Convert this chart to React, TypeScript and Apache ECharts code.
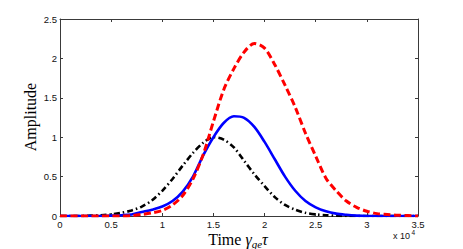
import React, { useEffect, useRef } from "react";
import * as echarts from "echarts";

// x positions in units of 1e4 (Time γ_ge τ)
const xs = [0, 0.1, 0.2, 0.3, 0.4, 0.5, 0.6, 0.7, 0.8, 0.9, 1.0, 1.1, 1.2, 1.3, 1.4, 1.5, 1.6, 1.7, 1.8, 1.9, 2.0, 2.1, 2.2, 2.3, 2.4, 2.5, 2.6, 2.7, 2.8, 2.9, 3.0, 3.1, 3.2, 3.3, 3.4, 3.5];

const blackDashDot = [0, 0, 0, 0.005, 0.01, 0.02, 0.04, 0.07, 0.12, 0.2, 0.32, 0.47, 0.64, 0.8, 0.93, 1.0, 0.97, 0.87, 0.7, 0.53, 0.38, 0.24, 0.14, 0.08, 0.04, 0.02, 0.01, 0.005, 0, 0, 0, 0, 0, 0, 0, 0];
const blueSolid = [0, 0, 0, 0, 0, 0.005, 0.01, 0.02, 0.05, 0.08, 0.12, 0.19, 0.31, 0.5, 0.77, 1.0, 1.18, 1.265, 1.245, 1.13, 0.94, 0.72, 0.5, 0.32, 0.19, 0.11, 0.06, 0.03, 0.015, 0.005, 0, 0, 0, 0, 0, 0];
const redDashed = [0, 0, 0, 0, 0, 0, 0, 0.005, 0.02, 0.04, 0.07, 0.14, 0.26, 0.47, 0.78, 1.2, 1.6, 1.87, 2.08, 2.19, 2.13, 1.92, 1.66, 1.38, 1.05, 0.76, 0.48, 0.32, 0.19, 0.11, 0.06, 0.03, 0.02, 0.01, 0.005, 0];

const xTickLabels = ["0", "0.5", "1", "1.5", "2", "2.5", "3", "3.5"];

const SCALE = 10000;
const pairs = (ys: number[]) => xs.map((x, i) => [x * SCALE, ys[i]]);

export default function App() {
  const ref = useRef<HTMLDivElement>(null);
  useEffect(() => {
    if (!ref.current) return;
    const chart = echarts.init(ref.current, null, { renderer: "svg" });
    const axisColor = "#3a3a3a";
    const labelFont = "'Liberation Sans', Arial, Helvetica, sans-serif";
    const serif = "'Liberation Serif', 'Times New Roman', 'DejaVu Serif', serif";
    chart.setOption({
      animation: false,
      backgroundColor: "#ffffff",
      grid: { left: 60, right: 45, top: 19, bottom: 33, containLabel: false },
      xAxis: [
        {
          type: "value",
          min: 0,
          max: 35000,
          interval: 5000,
          position: "bottom",
          axisLine: { show: true, onZero: false, lineStyle: { color: axisColor, width: 1 } },
          axisTick: { show: true, inside: true, length: 3, lineStyle: { color: axisColor } },
          axisLabel: {
            color: "#111",
            fontSize: 9.5,
            fontFamily: labelFont,
            margin: 3,
            formatter: (v: number) => xTickLabels[Math.round(v / 5000)] ?? "",
          },
          splitLine: { show: false },
        },
        {
          type: "value",
          min: 0,
          max: 35000,
          interval: 5000,
          position: "top",
          axisLine: { show: true, onZero: false, lineStyle: { color: axisColor, width: 1 } },
          axisTick: { show: true, inside: true, length: 3, lineStyle: { color: axisColor } },
          axisLabel: { show: false },
          splitLine: { show: false },
        },
      ],
      yAxis: [
        {
          type: "value",
          min: 0,
          max: 2.5,
          interval: 0.5,
          position: "left",
          axisLine: { show: true, onZero: false, lineStyle: { color: axisColor, width: 1 } },
          axisTick: { show: true, inside: true, length: 3, lineStyle: { color: axisColor } },
          axisLabel: { color: "#111", fontSize: 9.5, fontFamily: labelFont, margin: 3 },
          splitLine: { show: false },
        },
        {
          type: "value",
          min: 0,
          max: 2.5,
          interval: 0.5,
          position: "right",
          axisLine: { show: true, onZero: false, lineStyle: { color: axisColor, width: 1 } },
          axisTick: { show: true, inside: true, length: 3, lineStyle: { color: axisColor } },
          axisLabel: { show: false },
          splitLine: { show: false },
        },
      ],
      series: [
        {
          type: "line",
          data: pairs(blackDashDot),
          smooth: 0.3,
          symbol: "none",
          lineStyle: { color: "#000000", width: 2.6, type: [6, 3, 1.5, 3] },
          z: 2,
        },
        {
          type: "line",
          data: pairs(blueSolid),
          smooth: 0.3,
          symbol: "none",
          lineStyle: { color: "#0000ff", width: 2.6, type: "solid" },
          z: 3,
        },
        {
          type: "line",
          data: pairs(redDashed),
          smooth: 0.3,
          symbol: "none",
          lineStyle: { color: "#ff0000", width: 3, type: [7, 3.5] },
          z: 4,
        },
      ],
      graphic: [
        {
          type: "text",
          x: 30,
          y: 117,
          rotation: Math.PI / 2,
          style: {
            text: "Amplitude",
            font: `16px ${serif}`,
            fill: "#000",
            align: "center",
            verticalAlign: "middle",
          },
        },
        {
          type: "text",
          x: 238,
          y: 239,
          style: {
            text: "{a|Time }{g|γ}{s|ge}{g|τ}",
            align: "center",
            verticalAlign: "middle",
            rich: {
              a: { fontSize: 16, fontFamily: serif, color: "#000", lineHeight: 20, height: 20, verticalAlign: "middle" },
              g: { fontSize: 16, fontFamily: serif, fontStyle: "italic", color: "#000", lineHeight: 20, height: 20, verticalAlign: "middle" },
              s: { fontSize: 11, fontFamily: serif, fontStyle: "italic", color: "#000", lineHeight: 10, verticalAlign: "bottom" },
            },
          },
        },
        {
          type: "text",
          x: 393,
          y: 236,
          style: {
            text: "x 10",
            font: `9px ${labelFont}`,
            fill: "#111",
            align: "left",
            verticalAlign: "middle",
          },
        },
        {
          type: "text",
          x: 411.5,
          y: 232.5,
          style: {
            text: "4",
            font: `6.5px ${labelFont}`,
            fill: "#111",
            align: "left",
            verticalAlign: "middle",
          },
        },
      ],
    });
    return () => chart.dispose();
  }, []);
  return <div ref={ref} style={{ position: "fixed", left: 0, top: 0, width: 463, height: 249 }} />;
}
